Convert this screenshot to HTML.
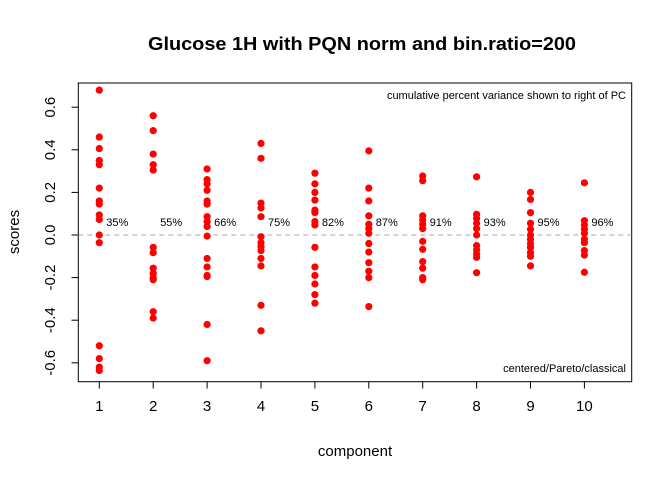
<!DOCTYPE html>
<html><head><meta charset="utf-8"><style>body{margin:0;background:#fff}svg{display:block;font-family:"Liberation Sans",Arial,sans-serif}</style></head>
<body>
<svg id="c" width="672" height="480">
<text x="362" y="50" text-anchor="middle" font-size="18" font-weight="bold" textLength="428" lengthAdjust="spacingAndGlyphs">Glucose 1H with PQN norm and bin.ratio=200</text>
<rect x="78.3" y="83" width="553.4" height="298.7" fill="none" stroke="#000"/>
<line x1="78.3" x2="631.7" y1="235" y2="235" stroke="#aaa" stroke-dasharray="5,4"/>
<text x="626" y="99" text-anchor="end" font-size="11">cumulative percent variance shown to right of PC</text>
<text x="626" y="372" text-anchor="end" font-size="11">centered/Pareto/classical</text>
<text x="355" y="456" text-anchor="middle" font-size="15">component</text>
<text transform="translate(19,232) rotate(-90)" text-anchor="middle" font-size="15">scores</text>
<g id="g"></g>
</svg>
<script>
const components=[1,2,3,4,5,6,7,8,9,10];
const yTicks=[-0.6,-0.4,-0.2,0.0,0.2,0.4,0.6];
const yTickLabels=["-0.6","-0.4","-0.2","0.0","0.2","0.4","0.6"];
const pctLabels=["35%","55%","66%","75%","82%","87%","91%","93%","95%","96%"];
const pc1=[0.68,0.46,0.406,0.35,0.33,0.22,0.16,0.145,0.094,0.073,0,-0.036,-0.52,-0.58,-0.62,-0.636];
const pc2=[0.56,0.49,0.38,0.33,0.305,-0.058,-0.083,-0.156,-0.18,-0.2,-0.21,-0.36,-0.39];
const pc3=[0.31,0.26,0.24,0.21,0.16,0.145,0.086,0.063,0.04,-0.005,-0.11,-0.15,-0.19,-0.195,-0.42,-0.59];
const pc4=[0.43,0.36,0.15,0.127,0.086,-0.008,-0.036,-0.055,-0.073,-0.11,-0.145,-0.33,-0.45];
const pc5=[0.29,0.24,0.2,0.164,0.117,0.105,0.063,0.047,-0.058,-0.15,-0.19,-0.23,-0.28,-0.32];
const pc6=[0.395,0.22,0.16,0.09,0.05,0.03,0.008,-0.04,-0.08,-0.13,-0.17,-0.2,-0.336];
const pc7=[0.277,0.255,0.09,0.07,0.05,0.03,-0.03,-0.067,-0.125,-0.156,-0.2,-0.21];
const pc8=[0.273,0.097,0.078,0.055,0.03,0,-0.05,-0.07,-0.09,-0.105,-0.177];
const pc9=[0.2,0.167,0.105,0.055,0.027,0,-0.02,-0.04,-0.058,-0.083,-0.1,-0.145];
const pc10=[0.245,0.067,0.047,0.027,0.008,-0.02,-0.036,-0.073,-0.094,-0.175];
const scores=[pc1,pc2,pc3,pc4,pc5,pc6,pc7,pc8,pc9,pc10];
const NS="http://www.w3.org/2000/svg";
const g=document.getElementById('g');
const xS=c=>99.3+(c-1)*53.9;
const yS=v=>235-v*213;
function mk(t,a,txt){const e=document.createElementNS(NS,t);for(const k in a)e.setAttribute(k,a[k]);if(txt!=null)e.textContent=txt;g.appendChild(e);return e;}
components.forEach((c,i)=>{
 const x=xS(c);
 const t=mk('line',{x1:x,x2:x,y1:381.7,y2:388.5,stroke:'#000'});
 
 
 const l=mk('text',{x:x,y:411,'text-anchor':'middle','font-size':15},String(c));
 
 
 scores[i].forEach(v=>{
  const p=mk('circle',{cx:x,cy:yS(v),r:3.6,fill:'#ff0000'});
  
  
 });
 const pl=mk('text',{x:x+7,y:226,'font-size':11},pctLabels[i]);
 
 
});
yTicks.forEach((v,i)=>{
 const y=yS(v);
 const t=mk('line',{x1:71.5,x2:78.3,y1:y,y2:y,stroke:'#000'});
 
 
 const l=mk('text',{transform:`translate(55,${y}) rotate(-90)`,'text-anchor':'middle','font-size':15},yTickLabels[i]);
 
 
});
</script>
</body></html>
